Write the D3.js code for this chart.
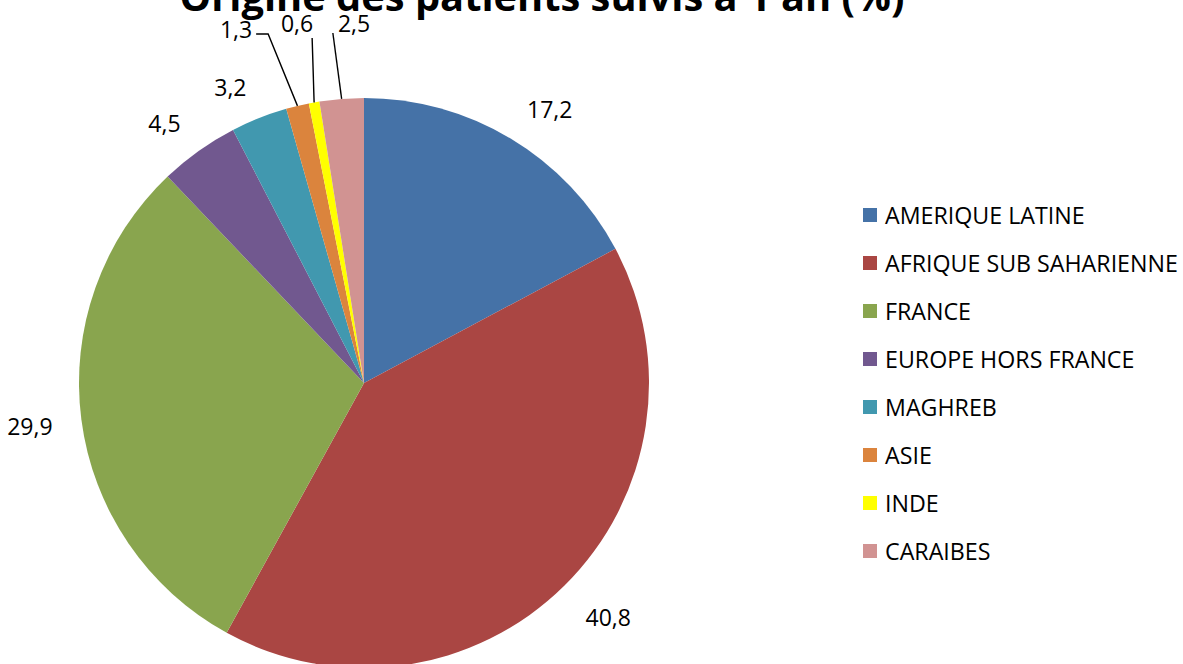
<!DOCTYPE html>
<html>
<head>
<meta charset="utf-8">
<script src="https://cdn.jsdelivr.net/npm/d3@7"></script>
<style>
  body { margin: 0; background: #fff; }
  svg { display: block; }
  text { font-family: "Open Sans", "Liberation Sans", sans-serif; fill: #000; }
</style>
</head>
<body>
<div id="chart"></div>
<script>
// data (percent)
var categories = ["AMERIQUE LATINE", "AFRIQUE SUB SAHARIENNE", "FRANCE", "EUROPE HORS FRANCE",
                  "MAGHREB", "ASIE", "INDE", "CARAIBES"]
var values = [17.2, 40.8, 29.9, 4.5, 3.2, 1.3, 0.6, 2.5]
var colors = ["#4572A7", "#AA4643", "#89A54E", "#71588F", "#4198AF", "#DB843D", "#FFFF00", "#D19392"]
var title = "Origine des patients suivis à 1 an (%)"

var width = 1183
var height = 664
var cx = 364, cy = 383, r = 285

var svg = d3.select("#chart").append("svg")
    .attr("width", width)
    .attr("height", height)

var fmt = function(v){ return String(v).replace(".", ",") }

var pie = d3.pie().sort(null).value(function(d){ return d.v })
var data = categories.map(function(c, i){ return {name: c, v: values[i], color: colors[i]} })
var arcs = pie(data)
var arc = d3.arc().innerRadius(0).outerRadius(r)

var g = svg.append("g").attr("transform", "translate(" + cx + "," + cy + ")")

g.selectAll("path.slice")
  .data(arcs)
  .enter().append("path")
  .attr("class", "slice")
  .attr("d", arc)
  .attr("fill", function(d){ return d.data.color })

var mid = function(d){ return (d.startAngle + d.endAngle) / 2 }

// big slices: label box corner sits on a ring outside the pie
var labelR = 311
var big = arcs.filter(function(d){ return d.data.v >= 3 })
var bt = g.selectAll("text.big")
  .data(big)
  .enter().append("text")
  .attr("class", "big")
  .attr("text-anchor", "middle")
  .attr("dominant-baseline", "central")
  .style("font-size", "23px")
  .text(function(d){ return fmt(d.data.v) })
bt.each(function(d){
  var a = mid(d)
  var w = this.getComputedTextLength(), h = 20
  var px = labelR * Math.sin(a), py = -labelR * Math.cos(a)
  var sx = Math.abs(Math.sin(a)) < 0.15 ? 0 : Math.sign(Math.sin(a))
  var sy = Math.abs(Math.cos(a)) < 0.15 ? 0 : -Math.sign(Math.cos(a))
  d3.select(this)
    .attr("x", px + sx * w / 2 + (sx < 0 ? -3 : 3))
    .attr("y", py + sy * h / 2 + 3)
})

// small slices: labels in a row above the pie with leader lines
var small = arcs.filter(function(d){ return d.data.v < 3 })
var rowX = [-128, -67, -10]
var rowY = [-354, -360, -360]
small.forEach(function(d, i){
  var a = mid(d)
  var ex = r * Math.sin(a), ey = -r * Math.cos(a)
  var t = g.append("text")
    .attr("x", rowX[i])
    .attr("y", rowY[i])
    .attr("text-anchor", "middle")
    .attr("dominant-baseline", "central")
    .style("font-size", "23px")
    .text(fmt(d.data.v))
  var bb = t.node().getBBox()
  var pts
  if (ex > bb.x + bb.width + 4) {
    var hy = rowY[i] + 5
    pts = [[bb.x + bb.width + 4, hy], [bb.x + bb.width + 16, hy], [ex, ey]]
  } else if (ex > bb.x + bb.width - 4) {
    pts = [[bb.x + bb.width - 1, rowY[i] + 15], [ex, ey]]
  } else {
    pts = [[bb.x - 5, rowY[i] + 10], [ex, ey]]
  }
  g.append("path")
    .attr("d", d3.line()(pts))
    .attr("fill", "none")
    .attr("stroke", "#000")
    .attr("stroke-width", 1.4)
})

// title, cut at top like the original
var tt = svg.append("text")
  .attr("x", 542)
  .attr("y", 11)
  .attr("text-anchor", "middle")
  .style("font-weight", "bold")
  .style("font-size", "36px")
  .text(title)
var tw = tt.node().getComputedTextLength()
tt.style("font-size", (36 * 725 / tw) + "px")

// legend
var legend = svg.append("g").attr("transform", "translate(863,215)")
var rows = legend.selectAll("g")
  .data(data)
  .enter().append("g")
  .attr("transform", function(d, i){ return "translate(0," + (i * 48) + ")" })
rows.append("rect")
  .attr("x", 0).attr("y", -7)
  .attr("width", 14).attr("height", 14)
  .attr("fill", function(d){ return d.color })
var lt = rows.append("text")
  .attr("x", 22)
  .attr("y", 0)
  .attr("dominant-baseline", "central")
  .style("font-size", "20px")
  .text(function(d){ return d.name })
var longest = d3.max(lt.nodes(), function(n){ return n.getComputedTextLength() })
lt.style("font-size", (20 * 293 / longest) + "px")
</script>
</body>
</html>
